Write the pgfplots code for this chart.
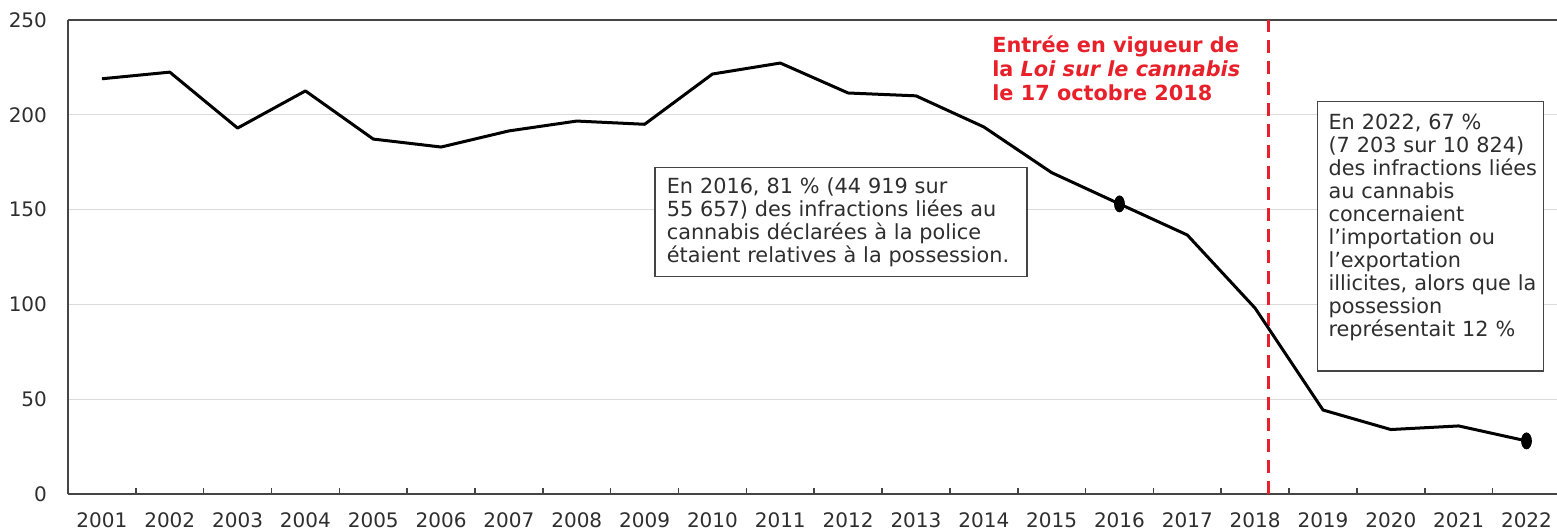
\documentclass[border=0pt]{standalone}
\usepackage{fontspec}
\setmainfont{DejaVu Sans}
\usepackage{pgfplots}
\pgfplotsset{compat=1.18}
\definecolor{redline}{HTML}{E8202A}
\definecolor{axgray}{HTML}{454545}
\definecolor{gridgray}{HTML}{DADADA}
\definecolor{txtgray}{HTML}{2E2E2E}

\begin{document}
\fontsize{10}{11.5}\selectfont
\begin{tikzpicture}
\begin{axis}[
    name=ax,
    scale only axis,
    width=744.5pt, height=237pt,
    xmin=-0.5, xmax=21.45,
    ymin=0, ymax=250,
    axis lines=left,
    axis line style={-, axgray, line width=1pt},
    ytick={0,50,100,150,200,250},
    xtick={0,...,21},
    xticklabels={2001,2002,2003,2004,2005,2006,2007,2008,2009,2010,2011,
                 2012,2013,2014,2015,2016,2017,2018,2019,2020,2021,2022},
    minor xtick={0.5,1.5,...,20.5},
    major tick length=0pt,
    minor tick length=3pt,
    tick align=inside,
    tick style={axgray, line width=0.8pt},
    ymajorgrids,
    grid style={gridgray, line width=0.6pt},
    tick label style={text=txtgray, font=\fontsize{10}{11.5}\selectfont},
    yticklabel style={xshift=-7pt},
    xticklabel style={yshift=-6pt},
    /pgf/number format/assume math mode=true,
    clip=false,
]
\draw[axgray, line width=1pt] (rel axis cs:0,1) -- (rel axis cs:1,1);

\draw[redline, line width=1.5pt, dash pattern=on 6.5pt off 4pt]
    (axis cs:17.2,0) -- (axis cs:17.2,250);

\addplot[black, line width=1.5pt, line join=round] coordinates {
    (0,219) (1,222.5) (2,193) (3,212.6) (4,187.2) (5,183) (6,191.5)
    (7,196.7) (8,195) (9,221.5) (10,227.3) (11,211.5) (12,210)
    (13,193.6) (14,169.5) (15,153) (16,136.6) (17,98) (18,44.3)
    (19,34) (20,35.9) (21,28)
};
\addplot[only marks, mark=*, mark size=4pt,
    mark options={xscale=0.62, fill=black, draw=black}] coordinates {
    (15,153) (21,28)
};

\node[anchor=north west, inner sep=0pt, align=left, text=redline,
      font=\fontsize{10.4}{12}\selectfont\bfseries]
    at (axis cs:13.12,241.6)
    {Entrée en vigueur de\\la \textit{Loi sur le cannabis}\\le 17 octobre 2018};

\node[anchor=north west, draw=axgray, line width=0.7pt, fill=white,
      text=txtgray, align=left, text width=174pt, inner xsep=6pt, inner ysep=5pt,
      font=\fontsize{10.4}{11.5}\selectfont]
    at (axis cs:8.14,172.5)
    {\mbox{En 2016, 81 \% (44 919 sur}\\\mbox{55 657) des infractions liées au}\\
     \mbox{cannabis déclarées à la police}\\\mbox{étaient relatives à la possession.}};

\node[anchor=north west, draw=axgray, line width=0.7pt, fill=white,
      text=txtgray, align=left, text width=102pt, inner xsep=5.5pt, inner ysep=6pt,
      font=\fontsize{10.4}{11.5}\selectfont]
    at (axis cs:17.91,207.3)
    {\mbox{En 2022, 67 \%}\\\mbox{(7 203 sur 10 824)}\\\mbox{des infractions liées}\\
     \mbox{au cannabis}\\\mbox{concernaient}\\\mbox{l’importation ou}\\
     \mbox{l’exportation}\\\mbox{illicites, alors que la}\\\mbox{possession}\\
     \mbox{représentait 12 \%}\\\mbox{}};
\end{axis}
\pgfresetboundingbox
\path[use as bounding box] ([shift={(-34pt,-18pt)}]ax.south west)
    rectangle ([shift={(0pt,10pt)}]ax.north east);
\end{tikzpicture}
\end{document}
